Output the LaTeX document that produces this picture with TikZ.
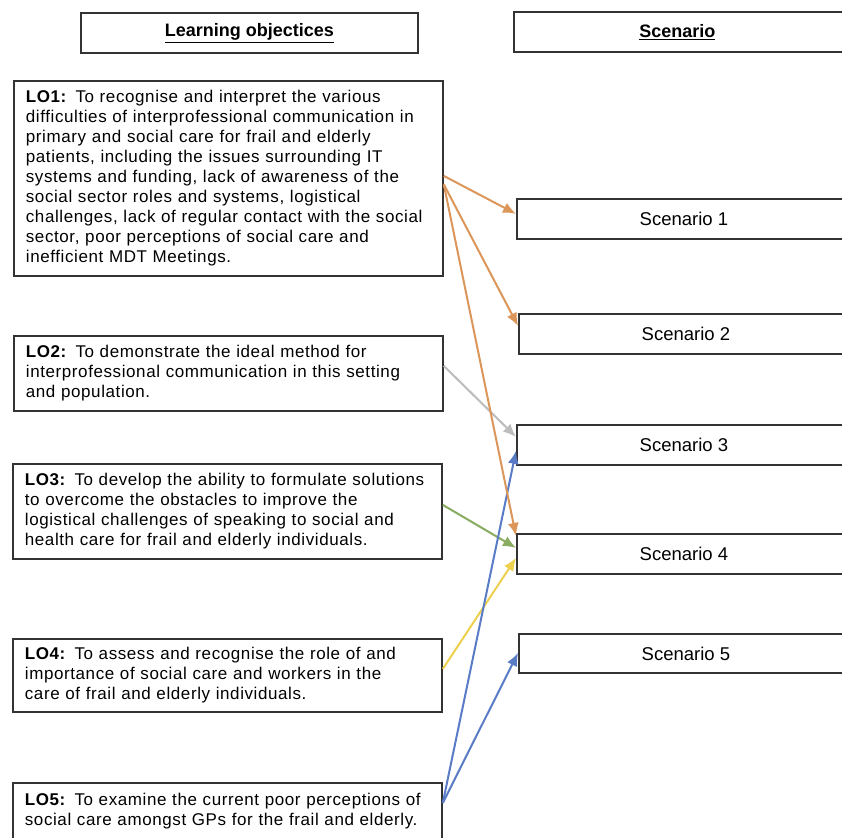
\documentclass[tikz,border=0pt]{standalone}
\usepackage{fontspec}
\setmainfont{Liberation Sans}[LetterSpace=3.5]
\newfontfamily\scfont{Liberation Sans}
\usetikzlibrary{arrows.meta}
\definecolor{lnorange}{RGB}{220,150,90}
\definecolor{lngrey}{RGB}{188,188,188}
\definecolor{lngreen}{RGB}{136,172,96}
\definecolor{lnyellow}{RGB}{236,208,78}
\definecolor{lnblue}{RGB}{90,124,198}
\begin{document}
\begin{tikzpicture}[x=1pt,y=-1pt,
        font=\fontsize{17}{20}\selectfont,
        box/.style={draw=black!80,line width=1.8pt,anchor=north west,inner sep=0pt},
        headbox/.style={box,minimum height=40pt,font=\scfont\bfseries\fontsize{18}{20}\selectfont},
        lobox/.style={box,align=left,text width=405pt,inner xsep=12pt,minimum height=#1},
        scbox/.style={box,minimum width=334pt,minimum height=40pt,font=\scfont\fontsize{18.5}{20}\selectfont},
        link/.style={line width=2pt,-{Latex[length=13pt,width=11pt]}}]
            \useasboundingbox (0,0) rectangle (842,837);
            \fill[white] (0,0) rectangle (842,837);
            \clip (0,0) rectangle (842,837);
            \node[headbox,minimum width=337pt] (hlo) at (80,12) {\underline{Learning objectices}};
            \node[headbox,minimum width=345pt] (hsc) at (513,11) {\underline{Scenario}\hspace*{18pt}};
            \node[lobox=195pt] (lo1) at (13,80) {\textbf{LO1:} To recognise and interpret the various\\
                difficulties of interprofessional communication in\\
                primary and social care for frail and elderly\\
                patients, including the issues surrounding IT\\
                systems and funding, lack of awareness of the\\
                social sector roles and systems, logistical\\
                challenges, lack of regular contact with the social\\
                sector, poor perceptions of social care and\\
                inefficient MDT Meetings.};
            \node[lobox=75pt] (lo2) at (13,335) {\textbf{LO2:} To demonstrate the ideal method for\\
                interprofessional communication in this setting\\
                and population.};
            \node[lobox=95pt] (lo3) at (12,463) {\textbf{LO3:} To develop the ability to formulate solutions\\
                to overcome the obstacles to improve the\\
                logistical challenges of speaking to social and\\
                health care for frail and elderly individuals.};
            \node[lobox=73pt] (lo4) at (12,638) {\textbf{LO4:} To assess and recognise the role of and\\
                importance of social care and workers in the\\
                care of frail and elderly individuals.};
            \node[lobox=56pt] (lo5) at (12,782) {\textbf{LO5:} To examine the current poor perceptions of\\
                social care amongst GPs for the frail and elderly.};
            \node[scbox] (sc1) at (516,198) {Scenario 1};
            \node[scbox] (sc2) at (518,313) {Scenario 2};
            \node[scbox] (sc3) at (516,424) {Scenario 3};
            \node[scbox] (sc4) at (516,533) {Scenario 4};
            \node[scbox,minimum height=39pt] (sc5) at (518,633) {Scenario 5};
            \draw[link,lnorange] ([yshift=2.5pt]lo1.east) -- ([yshift=5pt]sc1.west);
            \draw[link,lnorange] ([yshift=-6pt]lo1.east) -- ([yshift=8pt]sc2.west);
            \draw[link,lngrey] ([yshift=7.5pt]lo2.east) -- ([yshift=8pt]sc3.west);
            \draw[link,lngreen] ([yshift=6.5pt]lo3.east) -- ([yshift=6pt]sc4.west);
            \draw[link,lnyellow] ([yshift=6.5pt]lo4.east) -- ([yshift=-4pt]sc4.west);
            \draw[link,lnblue] ([yshift=8pt]lo5.east) -- ([yshift=-6pt]sc3.west);
            \draw[link,lnblue] ([yshift=8pt]lo5.east) -- ([yshift=0.5pt]sc5.west);
            \draw[link,lnorange] ([yshift=-6pt]lo1.east) -- ([yshift=18pt]sc4.west);
\end{tikzpicture}
\end{document}
